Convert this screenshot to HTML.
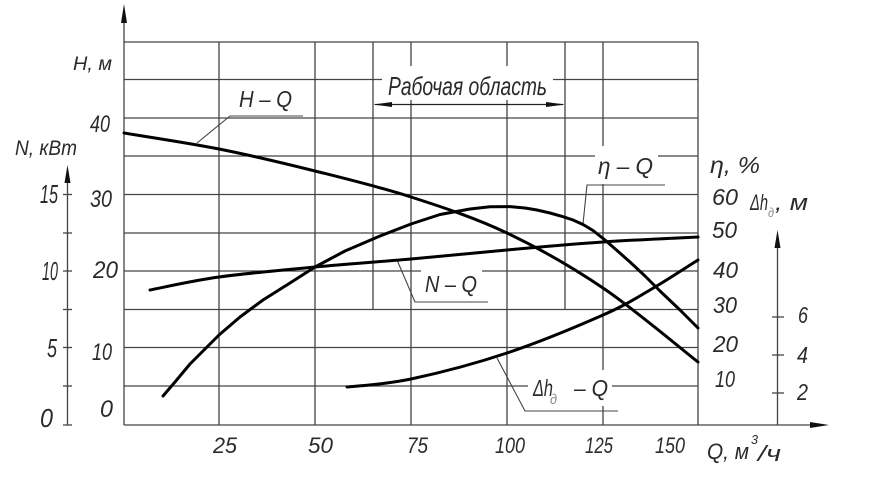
<!DOCTYPE html>
<html>
<head>
<meta charset="utf-8">
<style>
  html, body { margin: 0; padding: 0; background: #fff; }
  svg { display: block; }
  text { font-family: "Liberation Sans", "DejaVu Sans", sans-serif; font-style: italic; fill: #2a2a2a; }
</style>
</head>
<body>
<svg width="870" height="481" viewBox="0 0 870 481" xmlns="http://www.w3.org/2000/svg">
  <rect x="0" y="0" width="870" height="481" fill="#fff"/>

  <!-- grid -->
  <g stroke="#444" stroke-width="1.3" fill="none">
    <line x1="124" y1="42" x2="698" y2="42"/>
    <line x1="124" y1="79.5" x2="698" y2="79.5"/>
    <line x1="124" y1="118" x2="698" y2="118"/>
    <line x1="124" y1="156" x2="698" y2="156"/>
    <line x1="124" y1="194.5" x2="698" y2="194.5"/>
    <line x1="124" y1="233" x2="698" y2="233"/>
    <line x1="124" y1="271" x2="698" y2="271"/>
    <line x1="124" y1="309.5" x2="698" y2="309.5"/>
    <line x1="124" y1="347.5" x2="698" y2="347.5"/>
    <line x1="124" y1="386" x2="698" y2="386"/>
    <line x1="124" y1="425" x2="812" y2="425"/>

    <line x1="124" y1="14" x2="124" y2="425"/>
    <line x1="219" y1="42" x2="219" y2="425"/>
    <line x1="315" y1="42" x2="315" y2="425"/>
    <line x1="373" y1="42" x2="373" y2="309.5"/>
    <line x1="411" y1="42" x2="411" y2="425"/>
    <line x1="507" y1="42" x2="507" y2="425"/>
    <line x1="565" y1="42" x2="565" y2="309.5"/>
    <line x1="603" y1="42" x2="603" y2="425"/>
    <line x1="698" y1="42" x2="698" y2="425"/>

    <!-- N axis -->
    <line x1="67.5" y1="175" x2="67.5" y2="425"/>
    <line x1="63" y1="194.5" x2="72" y2="194.5"/>
    <line x1="63" y1="233" x2="72" y2="233"/>
    <line x1="63" y1="271" x2="72" y2="271"/>
    <line x1="63" y1="309.5" x2="72" y2="309.5"/>
    <line x1="63" y1="347.5" x2="72" y2="347.5"/>
    <line x1="63" y1="386" x2="72" y2="386"/>
    <line x1="63" y1="425" x2="72" y2="425"/>

    <!-- Δh axis -->
    <line x1="777.5" y1="240" x2="777.5" y2="425"/>
    <line x1="772" y1="317" x2="784" y2="317"/>
    <line x1="772" y1="355" x2="784" y2="355"/>
    <line x1="772" y1="393" x2="784" y2="393"/>
  </g>

  <!-- arrowheads -->
  <g fill="#111">
    <polygon points="124,4 121,23 127,23"/>
    <polygon points="67.5,165 64.5,183 70.5,183"/>
    <polygon points="777.5,230 774.5,248 780.5,248"/>
    <polygon points="829,425 810,422 810,428"/>
  </g>

  <!-- white boxes behind labels -->
  <g fill="#fff">
    <rect x="382" y="66" width="171" height="34"/>
    <rect x="595" y="146" width="63" height="38"/>
    <rect x="421" y="262" width="61" height="34"/>
    <rect x="528" y="370" width="84" height="36"/>
  </g>

  <!-- Рабочая область arrow -->
  <g stroke="#222" stroke-width="1.2">
    <line x1="375" y1="104.5" x2="563" y2="104.5"/>
  </g>
  <g fill="#111">
    <polygon points="373,104.5 392,102 392,107"/>
    <polygon points="565,104.5 546,102 546,107"/>
  </g>

  <!-- leader lines -->
  <g stroke="#444" stroke-width="1.1" fill="none">
    <polyline points="197,143 230,116 303,116"/>
    <polyline points="583,224 587,185 665,185"/>
    <polyline points="397,260 415,302 488,302"/>
    <polyline points="497,358 525,411 618,411"/>
  </g>

  <!-- curves -->
  <g stroke="#000" stroke-width="3" fill="none" stroke-linejoin="round" stroke-linecap="round">
    <!-- H-Q -->
    <path d="M124,133 C139.8,135.7 187.2,142.7 219,149 C250.8,155.3 283,163 315,171 C347,179 379,186.7 411,197 C443,207.3 475,217.8 507,233 C539,248.2 571.2,266.5 603,288 C634.8,309.5 682.2,349.7 698,362"/>
    <!-- η-Q -->
    <polyline points="163,396 175,382 190,364 205,349 219,335 240,317 263,300 290,283 315,267 345,251 380,236 411,224 440,214.5 470,209 490,206.8 510,206.6 525,208 537,210 550,213 563,216.7 573,220 583,224.5 593,230.5 605,240 617,250.5 630,262 645,276 660,291 680,310 698,328"/>
    <!-- N-Q -->
    <path d="M150,290 C161.5,287.8 191.5,280.8 219,277 C246.5,273.2 283,270 315,267 C347,264 379,261.8 411,259 C443,256.2 475,253 507,250 C539,247 571.2,244.2 603,242 C634.8,239.8 682.2,237.8 698,237"/>
    <!-- Δh-Q -->
    <path d="M347,387 C357.7,385.7 384.3,384.7 411,379 C437.7,373.3 475,363.7 507,353 C539,342.3 579.2,325.5 603,315 C626.8,304.5 634.2,299.2 650,290 C665.8,281 690,265 698,260"/>
  </g>

  <!-- axis titles -->
  <text x="73" y="70" font-size="19" textLength="39" lengthAdjust="spacingAndGlyphs">H, м</text>
  <text x="15" y="155" font-size="21" textLength="62" lengthAdjust="spacingAndGlyphs">N, кВт</text>

  <!-- curve labels -->
  <text x="239" y="107" font-size="23" textLength="53" lengthAdjust="spacingAndGlyphs">H – Q</text>
  <text x="388" y="95" font-size="26" textLength="159" lengthAdjust="spacingAndGlyphs">Рабочая область</text>
  <text x="598" y="174" font-size="23" textLength="55" lengthAdjust="spacingAndGlyphs">η – Q</text>
  <text x="425" y="292" font-size="23" textLength="52" lengthAdjust="spacingAndGlyphs">N – Q</text>
  <text x="533" y="396" font-size="23" textLength="20" lengthAdjust="spacingAndGlyphs">Δh</text>
  <text x="550" y="404" font-size="14" textLength="7" lengthAdjust="spacingAndGlyphs" style="fill:#888">д</text>
  <text x="574" y="396" font-size="23" textLength="34" lengthAdjust="spacingAndGlyphs">– Q</text>

  <!-- right axis titles -->
  <text x="710" y="173" font-size="23" textLength="50" lengthAdjust="spacingAndGlyphs">η, %</text>
  <text x="750" y="210" font-size="22" textLength="18" lengthAdjust="spacingAndGlyphs">Δh</text>
  <text x="768" y="217" font-size="13" textLength="6" lengthAdjust="spacingAndGlyphs" style="fill:#888">д</text>
  <text x="775" y="210" font-size="22" textLength="33" lengthAdjust="spacingAndGlyphs">, м</text>

  <!-- H tick labels -->
  <g font-size="24">
    <text x="90" y="132" textLength="20" lengthAdjust="spacingAndGlyphs">40</text>
    <text x="90" y="207" textLength="22" lengthAdjust="spacingAndGlyphs">30</text>
    <text x="93" y="278" textLength="25" lengthAdjust="spacingAndGlyphs">20</text>
    <text x="92" y="360" textLength="20" lengthAdjust="spacingAndGlyphs">10</text>
    <text x="100" y="417" textLength="13" lengthAdjust="spacingAndGlyphs">0</text>
  </g>

  <!-- N tick labels -->
  <g font-size="26">
    <text x="40" y="203" textLength="18" lengthAdjust="spacingAndGlyphs">15</text>
    <text x="42" y="280" textLength="16" lengthAdjust="spacingAndGlyphs">10</text>
    <text x="47" y="357" textLength="10" lengthAdjust="spacingAndGlyphs">5</text>
    <text x="40" y="427" textLength="13" lengthAdjust="spacingAndGlyphs">0</text>
  </g>

  <!-- η tick labels -->
  <g font-size="23">
    <text x="712" y="205" textLength="26" lengthAdjust="spacingAndGlyphs">60</text>
    <text x="712" y="238" textLength="25" lengthAdjust="spacingAndGlyphs">50</text>
    <text x="713" y="278" textLength="25" lengthAdjust="spacingAndGlyphs">40</text>
    <text x="713" y="313" textLength="24" lengthAdjust="spacingAndGlyphs">30</text>
    <text x="713" y="352" textLength="25" lengthAdjust="spacingAndGlyphs">20</text>
    <text x="715" y="387" textLength="20" lengthAdjust="spacingAndGlyphs">10</text>
  </g>

  <!-- Δh tick labels -->
  <g font-size="23">
    <text x="798" y="323" textLength="10" lengthAdjust="spacingAndGlyphs">6</text>
    <text x="797" y="363" textLength="11" lengthAdjust="spacingAndGlyphs">4</text>
    <text x="797" y="400" textLength="11" lengthAdjust="spacingAndGlyphs">2</text>
  </g>

  <!-- Q tick labels -->
  <g font-size="22">
    <text x="213" y="453" textLength="24" lengthAdjust="spacingAndGlyphs">25</text>
    <text x="308" y="453" textLength="25" lengthAdjust="spacingAndGlyphs">50</text>
    <text x="407" y="453" textLength="21" lengthAdjust="spacingAndGlyphs">75</text>
    <text x="495" y="453" textLength="30" lengthAdjust="spacingAndGlyphs">100</text>
    <text x="585" y="453" textLength="28" lengthAdjust="spacingAndGlyphs">125</text>
    <text x="655" y="453" textLength="30" lengthAdjust="spacingAndGlyphs">150</text>
  </g>

  <!-- Q axis title -->
  <text x="707" y="459" font-size="22" textLength="42" lengthAdjust="spacingAndGlyphs">Q, м</text>
  <text x="751" y="444" font-size="13" textLength="7" lengthAdjust="spacingAndGlyphs">3</text>
  <text x="758" y="461" font-size="22" textLength="23" lengthAdjust="spacingAndGlyphs">/ч</text>
</svg>
</body>
</html>
